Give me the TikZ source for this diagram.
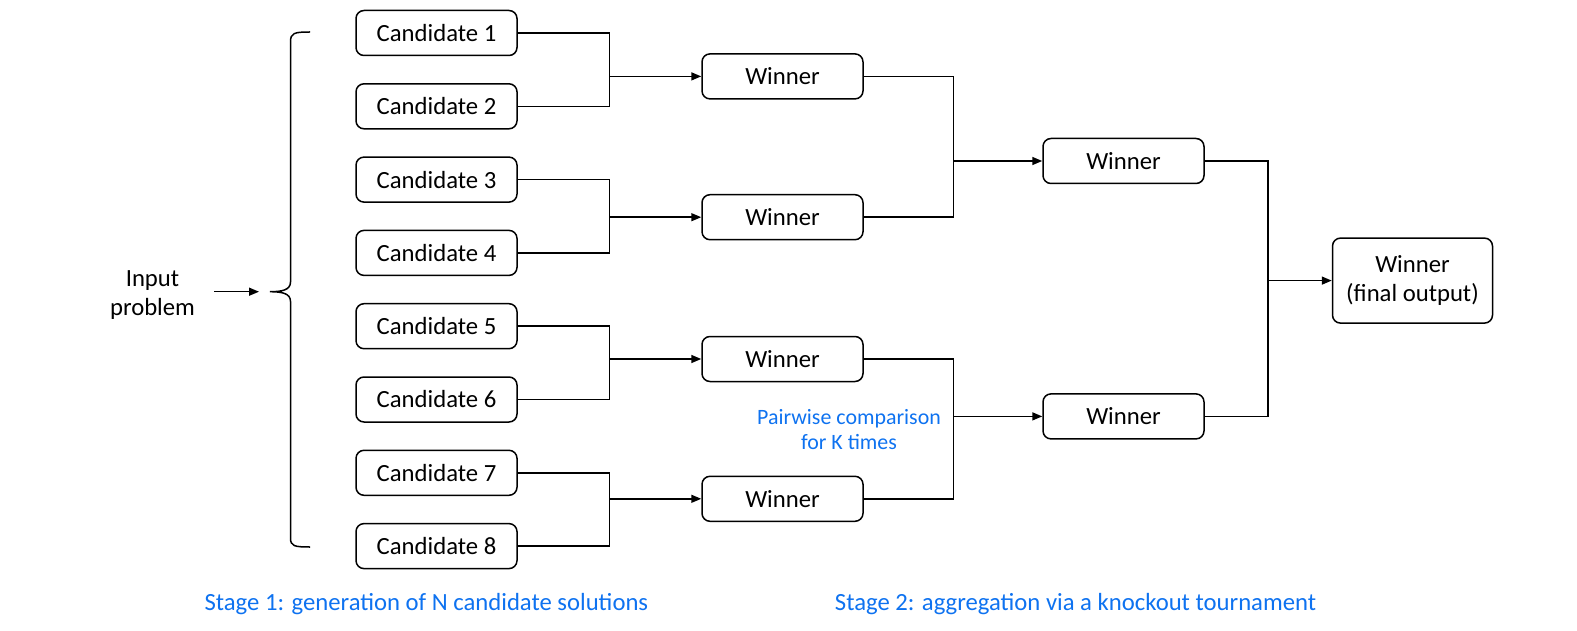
\documentclass[tikz,border=0pt]{standalone}
\usepackage{fontspec}
\setmainfont{Carlito}
\usetikzlibrary{arrows.meta}
\definecolor{stageblue}{RGB}{14,114,240}
\begin{document}
\begin{tikzpicture}[x=1pt,y=-1pt,
  box/.style={draw, rounded corners=8pt, line width=1.5pt, minimum width=161pt,
              minimum height=45pt, inner sep=0pt, align=center,
              font=\fontsize{24.7}{29.2}\selectfont},
  ln/.style={line width=1.5pt},
  arr/.style={ln, -{Triangle[length=10pt,width=8pt]}},
  bluetext/.style={text=stageblue, align=center},
]
\useasboundingbox (0,0) rectangle (1577,631);

% candidates
\foreach \i in {1,...,8}
  \node[box] (c\i) at (436.5, {33+73.3*(\i-1)}) {Candidate \i};

% winners
\node[box] (w1) at (782.5,76.4) {Winner};
\node[box] (w2) at (782.5,217.2) {Winner};
\node[box] (w3) at (782.5,359) {Winner};
\node[box] (w4) at (782.5,498.8) {Winner};
\node[box] (v1) at (1123.5,161) {Winner};
\node[box] (v2) at (1123.5,416.4) {Winner};
\node[box, minimum width=160pt, minimum height=85pt] (f) at (1412.5,280.6) {Winner\\(final output)};

% junctions
\coordinate (j1) at (609.5,0 |- w1.west);
\coordinate (j2) at (609.5,0 |- w2.west);
\coordinate (j3) at (609.5,0 |- w3.west);
\coordinate (j4) at (609.5,0 |- w4.west);
\coordinate (k1) at (953.4,0 |- v1.west);
\coordinate (k2) at (953.4,0 |- v2.west);
\coordinate (m1) at (1268,0 |- f.west);

\draw[ln] (c1.east) -| (j1); \draw[ln] (c2.east) -| (j1); \draw[arr] (j1) -- (w1.west);
\draw[ln] (c3.east) -| (j2); \draw[ln] (c4.east) -| (j2); \draw[arr] (j2) -- (w2.west);
\draw[ln] (c5.east) -| (j3); \draw[ln] (c6.east) -| (j3); \draw[arr] (j3) -- (w3.west);
\draw[ln] (c7.east) -| (j4); \draw[ln] (c8.east) -| (j4); \draw[arr] (j4) -- (w4.west);
\draw[ln] (w1.east) -| (k1); \draw[ln] (w2.east) -| (k1); \draw[arr] (k1) -- (v1.west);
\draw[ln] (w3.east) -| (k2); \draw[ln] (w4.east) -| (k2); \draw[arr] (k2) -- (v2.west);
\draw[ln] (v1.east) -| (m1); \draw[ln] (v2.east) -| (m1); \draw[arr] (m1) -- (f.west);

% input and brace
\node[align=center, font=\fontsize{24.7}{29.2}\selectfont] (inp) at (152.5,295) {Input\\problem};
\coordinate (arrs) at (214,291.7);
\coordinate (arre) at (259,291.7);
\draw[arr] (arrs) -- (arre);
\coordinate (btip) at (270,291.7);
\draw[ln] (310,32) .. controls (294,32) and (290.5,33) .. (290.5,42)
  -- (290.5,282) .. controls (290.5,290) and (282,291.7) .. (btip)
  .. controls (282,291.7) and (290.5,293.4) .. (290.5,301.4)
  -- (290.5,538) .. controls (290.5,546) and (294,547) .. (310,547);

% labels
\node[bluetext, font=\fontsize{21.9}{25}\selectfont] (pw) at (849,429.2) {Pairwise comparison\\for K times};
\node[bluetext, font=\fontsize{24.7}{29}\selectfont] (s1) at (426.4,604.4) {Stage 1: generation of N candidate solutions};
\node[bluetext, font=\fontsize{24.7}{29}\selectfont] (s2) at (1075.5,604.4) {Stage 2: aggregation via a knockout tournament};
\end{tikzpicture}
\end{document}
